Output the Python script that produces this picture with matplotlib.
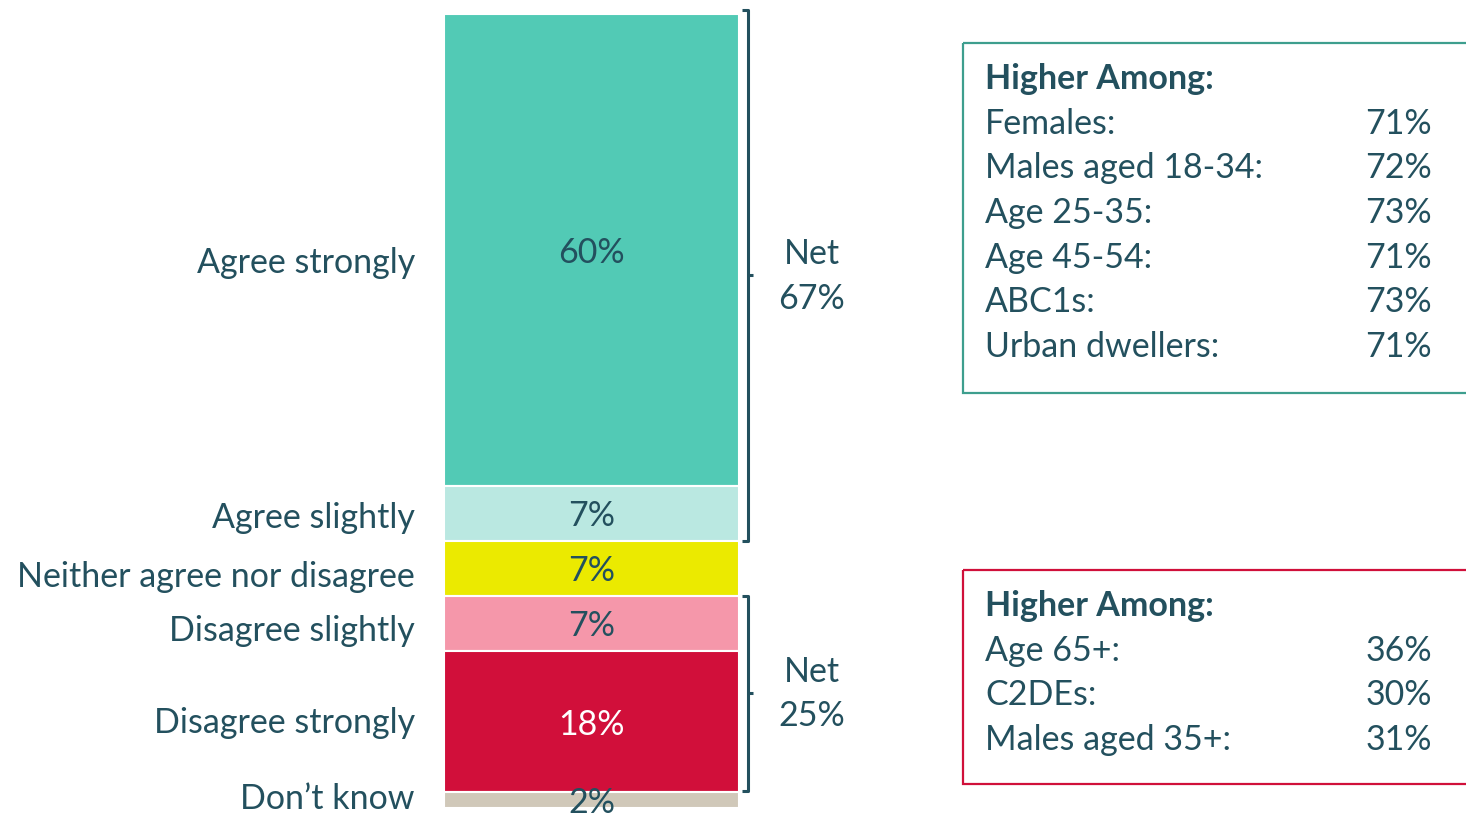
import matplotlib
matplotlib.use("Agg")
import matplotlib.pyplot as plt
from matplotlib.patches import Rectangle
import numpy as np

plt.rcParams['font.family'] = ['Lato', 'DejaVu Sans']

categories = ["Agree strongly", "Agree slightly", "Neither agree nor disagree",
              "Disagree slightly", "Disagree strongly", "Don\u2019t know"]
values = [60, 7, 7, 7, 18, 2]
colors = ["#52CAB5", "#BAE8E1", "#EBEA00", "#F597AA", "#D10F3A", "#D0C8B9"]
label_colors = ["#23505E", "#23505E", "#23505E", "#23505E", "#FFFFFF", "#23505E"]

net_agree = 67
net_disagree = 25

box1_title = "Higher Among:"
box1_labels = ["Females:", "Males aged 18-34:", "Age 25-35:", "Age 45-54:", "ABC1s:", "Urban dwellers:"]
box1_values = ["71%", "72%", "73%", "71%", "73%", "71%"]
box2_title = "Higher Among:"
box2_labels = ["Age 65+:", "C2DEs:", "Males aged 35+:"]
box2_values = ["36%", "30%", "31%"]

# layout-only vertical nudges for category labels (in % units)
label_dy = [1.7, 0.6, 1.1, 1.0, 0.2, -0.2]

TXT = "#23505E"
W, H = 1466, 814
fig = plt.figure(figsize=(W / 100, H / 100), dpi=100)

bx0, bx1, by0, by1 = 444, 739, 14, 808
ax = fig.add_axes([bx0 / W, 1 - by1 / H, (bx1 - bx0) / W, (by1 - by0) / H])
total = sum(values)
ax.set_xlim(0, bx1 - bx0)
ax.set_ylim(total, 0)
ax.axis('off')
bottoms = np.concatenate([[0], np.cumsum(values)[:-1]])
ax.bar([(bx1 - bx0) / 2] * len(values), values, width=bx1 - bx0, bottom=bottoms,
       color=colors, edgecolor='white', linewidth=1.5)
fs = 24.5
for v, b, c in zip(values, bottoms, label_colors):
    ax.text((bx1 - bx0) / 2, b + v / 2 + 0.4, f"{v}%", ha='center', va='center',
            fontsize=fs, color=c, clip_on=False)
for cat, v, b, dy in zip(categories, values, bottoms, label_dy):
    ax.text(-29, b + v / 2 + dy, cat, ha='right', va='center', fontsize=fs,
            color=TXT, clip_on=False)

def bracket(y0, y1, net):
    xv = 748 - bx0
    kw = dict(color="#23505E", lw=2.2, clip_on=False, solid_capstyle='butt')
    ax.plot([xv - 6, xv, xv, xv - 6], [y0, y0, y1, y1], **kw)
    ym = (y0 + y1) / 2
    ax.plot([xv, xv + 5], [ym, ym], **kw)
    ax.text(812 - bx0, ym - 2.75, "Net", ha='center', va='center', fontsize=fs,
            color=TXT, clip_on=False)
    ax.text(812 - bx0, ym + 2.95, f"{net}%", ha='center', va='center', fontsize=fs,
            color=TXT, clip_on=False)

bracket(-0.5, net_agree, net_agree)
bracket(sum(values[:3]), sum(values[:5]) - 0.2, net_disagree)

ov = fig.add_axes([0, 0, 1, 1])
ov.set_xlim(0, W)
ov.set_ylim(H, 0)
ov.axis('off')

def box(x, y0, y1, ec, title, labels, vals):
    ov.add_patch(Rectangle((x, y0), W - x + 5, y1 - y0, fill=False, ec=ec, lw=1.6))
    ty = y0 + 36
    ov.text(985, ty, title, ha='left', va='center', fontsize=fs, fontweight='bold', color=TXT)
    for i, (l, v) in enumerate(zip(labels, vals)):
        yy = ty + 44.7 * (i + 1)
        ov.text(985, yy, l, ha='left', va='center', fontsize=fs, color=TXT)
        ov.text(1432, yy, v, ha='right', va='center', fontsize=fs, color=TXT)

box(963, 43, 393, "#3E9E8E", box1_title, box1_labels, box1_values)
box(963, 570, 784, "#D0103A", box2_title, box2_labels, box2_values)

fig.savefig("out.png", dpi=100, facecolor='white')
